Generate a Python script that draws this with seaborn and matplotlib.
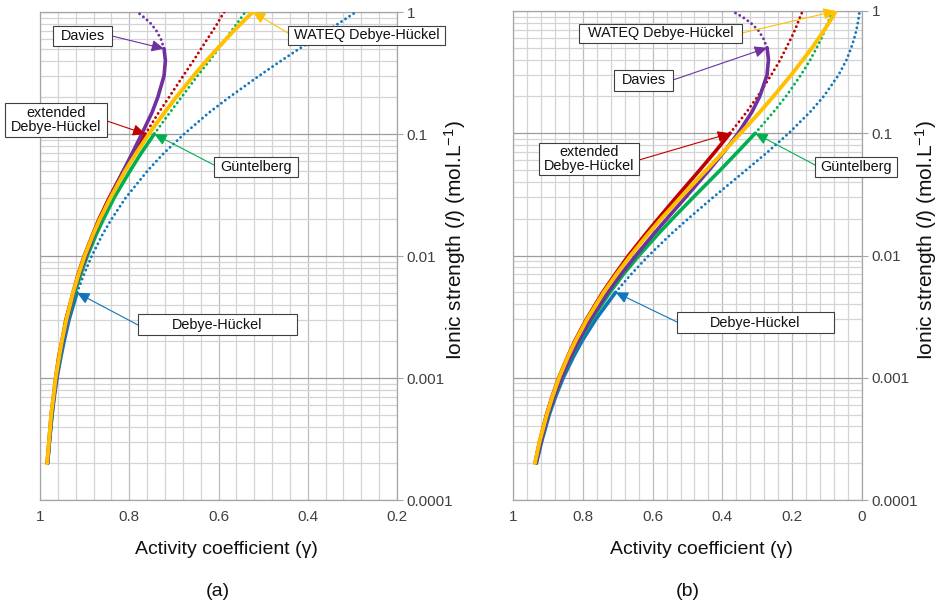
import matplotlib
matplotlib.use("Agg")
import matplotlib.pyplot as plt
import seaborn as sns
from matplotlib.patches import Rectangle
from matplotlib.ticker import FixedLocator, LogLocator, NullFormatter, MultipleLocator

# ---------------- data ----------------
ionic_strength = [0.0002, 0.0003, 0.0005, 0.0007, 0.001, 0.0015, 0.002, 0.003, 0.005,
                  0.007, 0.01, 0.015, 0.02, 0.03, 0.05, 0.07, 0.1, 0.15, 0.2, 0.3,
                  0.4, 0.5, 0.6, 0.7, 0.8, 0.9, 1.0]

# panel (a)
a_debye_huckel = [0.983, 0.979, 0.973, 0.968, 0.962, 0.953, 0.946, 0.935, 0.917, 0.902, 0.884,
                  0.860, 0.840, 0.808, 0.759, 0.722, 0.677, 0.621, 0.576, 0.509, 0.459, 0.419,
                  0.385, 0.357, 0.332, 0.311, 0.292]
a_extended = [0.984, 0.980, 0.975, 0.970, 0.965, 0.958, 0.951, 0.942, 0.926, 0.915, 0.901,
              0.882, 0.868, 0.845, 0.813, 0.790, 0.764, 0.734, 0.711, 0.679, 0.656, 0.639,
              0.625, 0.613, 0.603, 0.595, 0.587]
a_guntelberg = [0.983, 0.979, 0.973, 0.969, 0.963, 0.955, 0.949, 0.938, 0.922, 0.909, 0.894,
                0.874, 0.858, 0.834, 0.798, 0.773, 0.744, 0.709, 0.683, 0.647, 0.620, 0.600,
                0.584, 0.571, 0.559, 0.549, 0.540]
a_davies = [0.983, 0.979, 0.974, 0.969, 0.963, 0.956, 0.949, 0.939, 0.924, 0.912, 0.897,
            0.879, 0.865, 0.843, 0.813, 0.793, 0.772, 0.749, 0.736, 0.722, 0.719, 0.722,
            0.729, 0.739, 0.751, 0.766, 0.782]
a_wateq = [0.984, 0.980, 0.975, 0.970, 0.965, 0.957, 0.951, 0.941, 0.926, 0.914, 0.900,
           0.881, 0.866, 0.842, 0.809, 0.784, 0.756, 0.721, 0.695, 0.656, 0.627, 0.603,
           0.583, 0.566, 0.550, 0.536, 0.523]

# panel (b)
b_debye_huckel = [0.933, 0.918, 0.896, 0.878, 0.856, 0.826, 0.802, 0.763, 0.706, 0.662, 0.611,
                  0.547, 0.498, 0.426, 0.332, 0.271, 0.210, 0.148, 0.110, 0.067, 0.044, 0.031,
                  0.022, 0.016, 0.012, 0.009, 0.007]
b_extended = [0.937, 0.924, 0.904, 0.888, 0.869, 0.843, 0.823, 0.790, 0.743, 0.708, 0.669,
              0.620, 0.584, 0.532, 0.465, 0.422, 0.378, 0.330, 0.299, 0.260, 0.234, 0.217,
              0.203, 0.192, 0.184, 0.177, 0.170]
b_guntelberg = [0.934, 0.920, 0.898, 0.881, 0.860, 0.832, 0.810, 0.774, 0.722, 0.684, 0.639,
                0.584, 0.543, 0.483, 0.406, 0.357, 0.306, 0.253, 0.218, 0.175, 0.148, 0.130,
                0.116, 0.106, 0.098, 0.091, 0.085]
b_davies = [0.934, 0.920, 0.899, 0.882, 0.861, 0.834, 0.812, 0.778, 0.728, 0.691, 0.648,
            0.597, 0.559, 0.505, 0.438, 0.396, 0.355, 0.315, 0.293, 0.272, 0.268, 0.272,
            0.283, 0.298, 0.319, 0.344, 0.373]
b_wateq = [0.937, 0.924, 0.903, 0.887, 0.868, 0.842, 0.821, 0.788, 0.740, 0.704, 0.663,
           0.613, 0.575, 0.519, 0.446, 0.398, 0.348, 0.292, 0.254, 0.203, 0.169, 0.143,
           0.124, 0.108, 0.095, 0.084, 0.075]

model_names = ["Debye-Hückel", "extended\nDebye-Hückel", "Güntelberg", "Davies", "WATEQ Debye-Hückel"]
valid_limit = [0.005, 0.1, 0.1, 0.5, 1.0]      # end of solid (valid) range, mol/L
x_ticks_a = [1, 0.8, 0.6, 0.4, 0.2]
x_ticks_b = [1, 0.8, 0.6, 0.4, 0.2, 0]
y_ticks = [0.0001, 0.001, 0.01, 0.1, 1]
y_tick_labels = ["0.0001", "0.001", "0.01", "0.1", "1"]

# ---------------- styling ----------------
W, H = 940, 607
colors = ["#0F75BC", "#C00000", "#00B050", "#7030A0", "#FFC000"]
draw_order = [0, 2, 1, 3, 4]

sns.set_style("white")
plt.rcParams["font.family"] = ["Liberation Sans", "DejaVu Sans"]
plt.rcParams["mathtext.fontset"] = "custom"
plt.rcParams["mathtext.rm"] = "Liberation Sans"
plt.rcParams["mathtext.it"] = "Liberation Sans:italic"

fig = plt.figure(figsize=(W / 100, H / 100), dpi=100)


def fx(x):
    return x / W


def fy(y):
    return 1 - y / H


def make_axes(x0, y0, x1, y1):
    return fig.add_axes([fx(x0), fy(y1), (x1 - x0) / W, (y1 - y0) / H])


def style_axes(ax, xmax_right, xticks):
    ax.set_yscale("log")
    ax.set_ylim(0.0001, 1)
    ax.set_xlim(1, xmax_right)
    ax.yaxis.set_major_locator(FixedLocator(y_ticks))
    ax.set_yticklabels(y_tick_labels)
    ax.yaxis.set_minor_locator(LogLocator(base=10, subs=range(2, 10)))
    ax.yaxis.set_minor_formatter(NullFormatter())
    ax.xaxis.set_major_locator(FixedLocator(xticks))
    ax.set_xticklabels([("%g" % t) for t in xticks])
    ax.xaxis.set_minor_locator(MultipleLocator(0.04))
    ax.yaxis.tick_right()
    ax.tick_params(axis="y", which="major", length=4, width=0.8, color="#a6a6a6",
                   pad=3, labelsize=11, labelcolor="#404040")
    ax.tick_params(axis="y", which="minor", length=0)
    ax.tick_params(axis="x", which="both", length=0, pad=7, labelsize=11, labelcolor="#404040")
    ax.grid(False)
    ax.grid(which="minor", axis="both", color="#d4d4d4", lw=0.9)
    ax.grid(which="major", axis="x", color="#bdbdbd", lw=0.9)
    ax.grid(which="major", axis="y", color="#9c9c9c", lw=0.9)
    ax.set_axisbelow(True)
    for s in ax.spines.values():
        s.set_color("#a6a6a6")
        s.set_linewidth(0.9)
    ax.set_xlabel("")
    ax.set_ylabel("")


def draw_curves(ax, series):
    # dotted (outside validity) first, then solid
    for i in draw_order:
        g = series[i]
        k = ionic_strength.index(valid_limit[i])
        if k < len(ionic_strength) - 1:
            sns.lineplot(x=g[k:], y=ionic_strength[k:], ax=ax, color=colors[i], lw=2.1,
                         linestyle=(0, (0.01, 1.65)), dash_capstyle="round",
                         sort=False, estimator=None, zorder=3)
    for i in draw_order:
        g = series[i]
        k = ionic_strength.index(valid_limit[i])
        sns.lineplot(x=g[:k + 1], y=ionic_strength[:k + 1], ax=ax, color=colors[i],
                     lw=2.8 if i == 4 else 2.6, solid_capstyle="round",
                     sort=False, estimator=None, zorder=4)


def label_box(ax, series, i, box, start):
    x0, y0, x1, y1 = box
    rect = Rectangle((fx(x0), fy(y1)), (x1 - x0) / W, (y1 - y0) / H,
                     transform=fig.transFigure, facecolor="white",
                     edgecolor="#3f3f3f", lw=0.8, zorder=5)
    fig.add_artist(rect)
    fig.text(fx((x0 + x1) / 2), fy((y0 + y1) / 2), model_names[i], ha="center",
             va="center", fontsize=10.4, color="#111111", zorder=6, linespacing=1.05)
    k = ionic_strength.index(valid_limit[i])
    ax.annotate("", xy=(series[i][k], ionic_strength[k]), xycoords="data",
                xytext=(fx(start[0]), fy(start[1])), textcoords="figure fraction",
                arrowprops=dict(arrowstyle="-|>,head_length=0.75,head_width=0.35",
                                color=colors[i], lw=0.8, shrinkA=0, shrinkB=0,
                                mutation_scale=10),
                annotation_clip=False, zorder=6)


# ---------------- panel (a) ----------------
ax_a = make_axes(40, 12, 397, 500)
series_a = [a_debye_huckel, a_extended, a_guntelberg, a_davies, a_wateq]
draw_curves(ax_a, series_a)
style_axes(ax_a, 0.2, x_ticks_a)

label_box(ax_a, series_a, 3, (53, 26, 112, 46), (112, 36))
label_box(ax_a, series_a, 4, (288, 26, 445, 45), (288, 33))
label_box(ax_a, series_a, 1, (5, 103, 107, 137), (107, 121))
label_box(ax_a, series_a, 2, (214, 157, 298, 177), (214, 165))
label_box(ax_a, series_a, 0, (138, 314, 297, 335), (138, 325))

# ---------------- panel (b) ----------------
ax_b = make_axes(513, 11, 862, 500)
series_b = [b_debye_huckel, b_extended, b_guntelberg, b_davies, b_wateq]
draw_curves(ax_b, series_b)
style_axes(ax_b, 0.0, x_ticks_b)

label_box(ax_b, series_b, 4, (579, 24, 742, 43), (742, 33))
label_box(ax_b, series_b, 3, (614, 70, 673, 91), (673, 80))
label_box(ax_b, series_b, 1, (539, 143, 639, 175), (639, 160))
label_box(ax_b, series_b, 2, (815, 157, 897, 177), (815, 165))
label_box(ax_b, series_b, 0, (677, 312, 834, 333), (677, 322))

# ---------------- axis titles ----------------
ylab = r"Ionic strength ($\mathit{I}$) (mol.L$^{\mathrm{-1}}$)"
fig.text(fx(455), fy(240), ylab, rotation=90, ha="center", va="center", fontsize=15, color="#111111")
fig.text(fx(926), fy(240), ylab, rotation=90, ha="center", va="center", fontsize=15, color="#111111")
fig.text(fx(226), fy(550), "Activity coefficient (γ)", ha="center", va="center", fontsize=14, color="#111111")
fig.text(fx(701), fy(550), "Activity coefficient (γ)", ha="center", va="center", fontsize=14, color="#111111")
fig.text(fx(218), fy(592), "(a)", ha="center", va="center", fontsize=14, color="#111111")
fig.text(fx(688), fy(592), "(b)", ha="center", va="center", fontsize=14, color="#111111")

fig.savefig("out.png", dpi=100, facecolor="white")
